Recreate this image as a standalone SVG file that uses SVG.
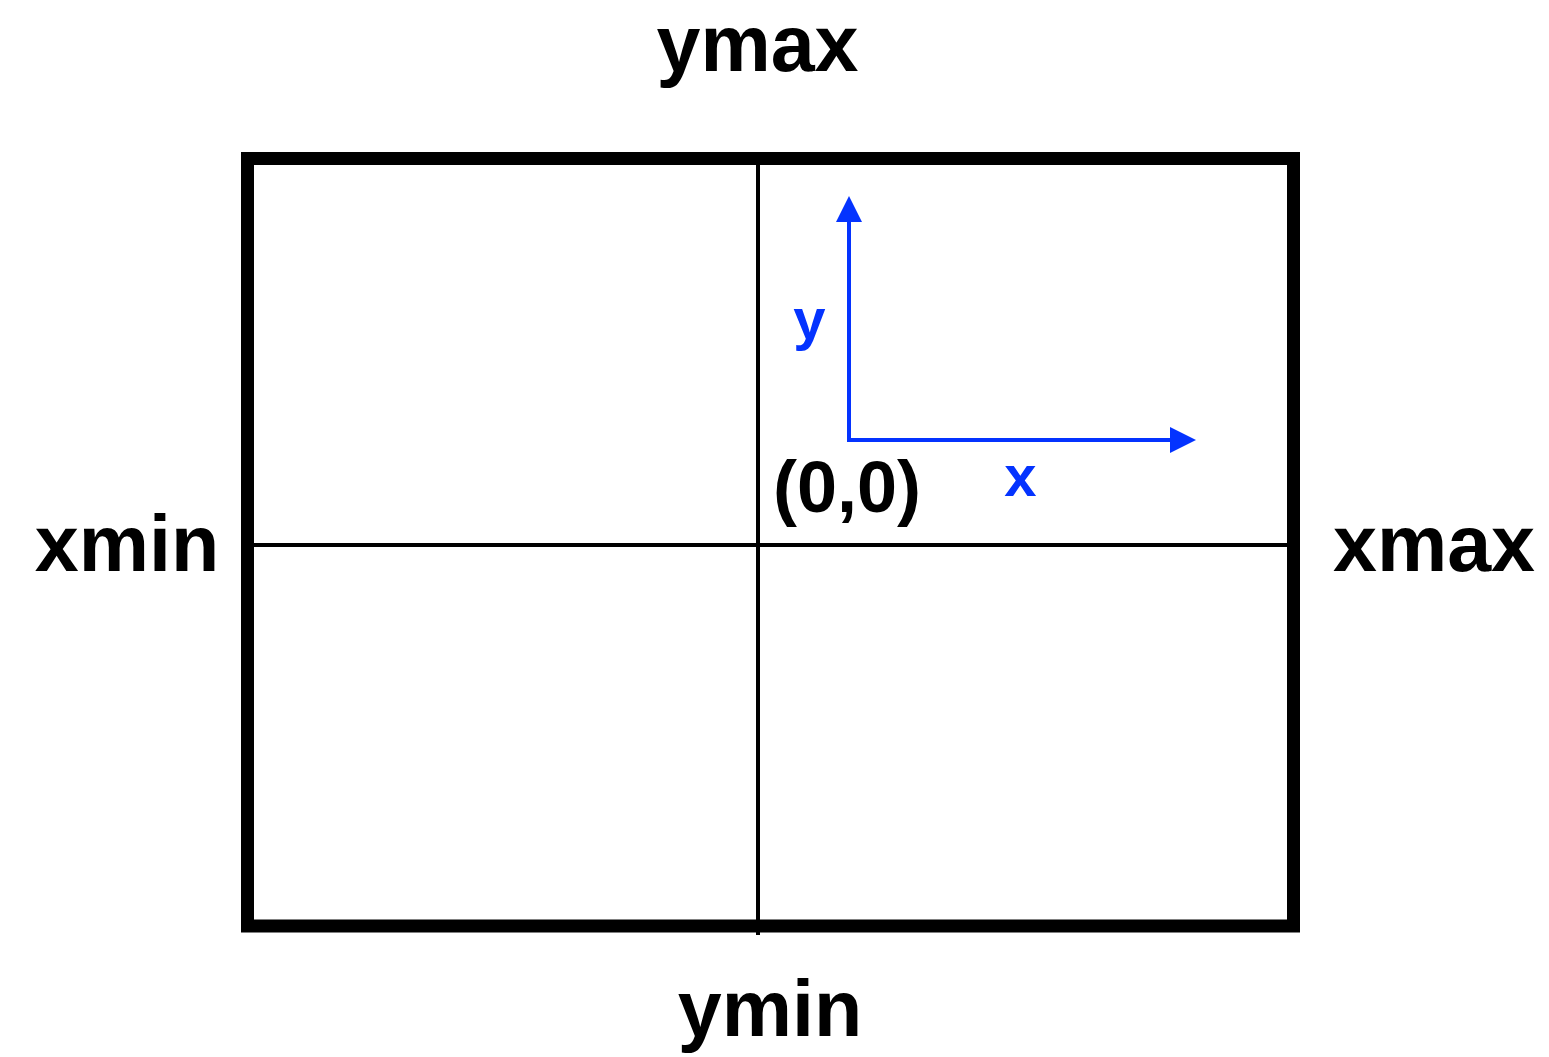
<svg xmlns="http://www.w3.org/2000/svg" width="1549" height="1057" viewBox="0 0 1549 1057">
<style>
.lbl{font-family:"Liberation Sans",Arial,sans-serif;font-weight:bold;fill:#000;text-anchor:middle}
.big{font-size:79px}
.org{font-size:72px}
.ax{font-family:"Liberation Sans",Arial,sans-serif;font-weight:bold;font-size:58px;fill:#0433FF;text-anchor:middle}
.blue{stroke:#0433FF;stroke-width:4;fill:none}
</style>
<defs>
<marker id="ah" viewBox="0 0 26 26" refX="1" refY="13" markerWidth="26" markerHeight="26" markerUnits="userSpaceOnUse" orient="auto">
<path d="M0,0 L26,13 L0,26 Z" fill="#0433FF"/>
</marker>
</defs>
<rect width="1549" height="1057" fill="#fff"/>
<g id="frame">
<rect x="247.5" y="158.5" width="1046" height="767.5" fill="none" stroke="#000" stroke-width="13"/>
</g>
<g id="gridlines">
<line x1="758" y1="165" x2="758" y2="935" stroke="#000" stroke-width="4"/>
<line x1="254" y1="545" x2="1287" y2="545" stroke="#000" stroke-width="4"/>
</g>
<g id="connectors">
<path class="blue" d="M849,442 L849,221" marker-end="url(#ah)"/>
<path class="blue" d="M847,440 L1171,440" marker-end="url(#ah)"/>
</g>
<g id="labels">
<text class="lbl big" x="757.5" y="71">ymax</text>
<text class="lbl big" x="770" y="1036">ymin</text>
<text class="lbl big" x="127" y="571">xmin</text>
<text class="lbl big" x="1434" y="571">xmax</text>
<text class="lbl org" x="847" y="512">(0,0)</text>
<text class="ax" x="809.5" y="339">y</text>
<text class="ax" x="1020.5" y="496">x</text>
</g>
</svg>
